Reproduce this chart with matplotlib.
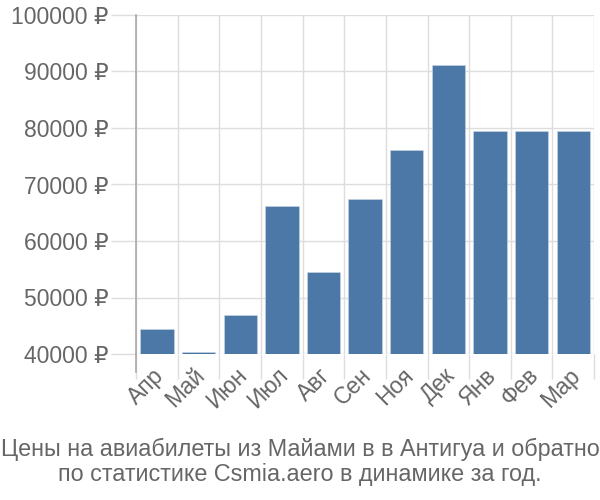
import matplotlib
matplotlib.use('Agg')
import matplotlib.pyplot as plt
import matplotlib.transforms as mtransforms
import numpy as np

months = ['Апр', 'Май', 'Июн', 'Июл', 'Авг', 'Сен', 'Ноя', 'Дек', 'Янв', 'Фев', 'Мар']
prices = [44400, 40300, 46900, 66200, 54500, 67400, 76100, 91100, 79400, 79400, 79400]
yticks = [40000, 50000, 60000, 70000, 80000, 90000, 100000]

plt.rcParams['font.family'] = ['Liberation Sans', 'DejaVu Sans']

fig = plt.figure(figsize=(6, 5), dpi=100)
ax = fig.add_axes([0.227, 0.292, 0.763, 0.678])

x = np.arange(len(months))
ax.bar(x, prices, width=0.8, bottom=0, color='#4c78a8', edgecolor='#c9d6e6', linewidth=0.4, zorder=3)

ax.set_xlim(-0.5, len(months) - 0.5)
ax.set_ylim(40000, 100000)

ax.set_yticks(yticks)
ax.set_yticklabels([f'{v} ₽' for v in yticks])
ax.set_xticks(x)
ax.set_xticklabels(months, rotation=45, ha='right', va='top', rotation_mode='anchor')
ax.set_xticks(np.arange(-0.5, len(months) + 0.5, 1), minor=True)

ax.tick_params(axis='y', length=18, width=1, color='#dddddd', labelsize=16.5, labelcolor='#666666', pad=2)
ax.tick_params(axis='x', which='major', length=0, labelsize=16.5, labelcolor='#666666', pad=7)
ax.tick_params(axis='x', which='minor', length=18, width=1, color='#dddddd')

# nudge month labels a bit to the left
shift = mtransforms.ScaledTranslation(-5 / 100, 0, fig.dpi_scale_trans)
for lbl in ax.get_xticklabels():
    lbl.set_transform(lbl.get_transform() + shift)

ax.grid(axis='y', which='major', color='#dddddd', linewidth=1, zorder=0)
ax.grid(axis='x', which='minor', color='#dddddd', linewidth=1, zorder=0)

for s in ['top', 'right', 'bottom']:
    ax.spines[s].set_visible(False)
ax.spines['left'].set_color('#aaaaaa')
ax.spines['left'].set_linewidth(1.2)
ax.axvline(-0.5, ymin=-0.053, ymax=0, color='#aaaaaa', linewidth=1.2, clip_on=False, zorder=4)

fig.text(0.5, 0.076, 'Цены на авиабилеты из Майами в в Антигуа и обратно\nпо статистике Csmia.aero в динамике за год.',
         ha='center', va='center', fontsize=16.8, color='#666666', linespacing=1.15)

fig.savefig('out.png', dpi=100)
